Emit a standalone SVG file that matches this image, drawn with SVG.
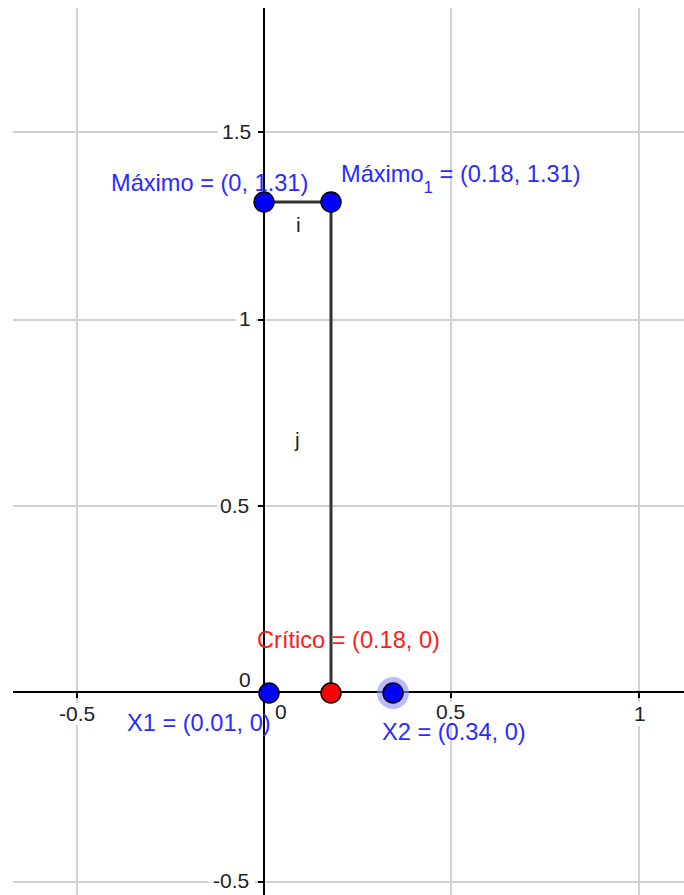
<svg xmlns="http://www.w3.org/2000/svg" width="684" height="895" viewBox="0 0 684 895">
<style>
.grid{stroke:#d0d0d0;stroke-width:2;fill:none}
.axis{stroke:#000;stroke-width:2;fill:none}
.seg{stroke:#333;stroke-width:3;fill:none}
.tick{font-family:"Liberation Sans",Arial,sans-serif;font-size:21px;fill:#222}
.bg{fill:#fff}
.lbl{font-family:"Liberation Sans",Arial,sans-serif;font-size:23.6px}
.blue{fill:#2a2aff}
.red{fill:#ff1a1a}
.pt{stroke:#000;stroke-width:1.5}
</style>
<rect width="684" height="895" fill="#fff"/>
<g id="grid">
<line class="grid" x1="77" y1="8" x2="77" y2="895"/>
<line class="grid" x1="451" y1="8" x2="451" y2="895"/>
<line class="grid" x1="639" y1="8" x2="639" y2="895"/>
<line class="grid" x1="13" y1="132" x2="684" y2="132"/>
<line class="grid" x1="13" y1="320" x2="684" y2="320"/>
<line class="grid" x1="13" y1="506" x2="684" y2="506"/>
<line class="grid" x1="13" y1="882" x2="684" y2="882"/>
</g>
<g id="tick-labels">
<rect class="bg" x="218" y="120" width="40" height="24"/>
<text class="tick" x="222" y="139">1.5</text>
<rect class="bg" x="236" y="307" width="20" height="24"/>
<text class="tick" x="239" y="326">1</text>
<rect class="bg" x="217" y="494" width="40" height="24"/>
<text class="tick" x="220" y="513">0.5</text>
<rect class="bg" x="209" y="870" width="46" height="24"/>
<text class="tick" x="213" y="888">-0.5</text>
<rect class="bg" x="236" y="672" width="18" height="18"/>
<text class="tick" x="239" y="687">0</text>
<rect class="bg" x="56" y="703" width="46" height="22"/>
<text class="tick" x="59" y="721">-0.5</text>
<text class="tick" x="275" y="719">0</text>
<rect class="bg" x="433" y="702" width="38" height="22"/>
<text class="tick" x="436" y="719">0.5</text>
<rect class="bg" x="632" y="702" width="18" height="24"/>
<text class="tick" x="634" y="721">1</text>
</g>
<g id="axes">
<line class="axis" x1="13" y1="692" x2="684" y2="692"/>
<line class="axis" x1="264" y1="8" x2="264" y2="895"/>
<line class="axis" x1="258" y1="132" x2="264" y2="132"/>
<line class="axis" x1="258" y1="320" x2="264" y2="320"/>
<line class="axis" x1="258" y1="506" x2="264" y2="506"/>
<line class="axis" x1="258" y1="882" x2="264" y2="882"/>
<line class="axis" x1="77" y1="692" x2="77" y2="698"/>
<line class="axis" x1="451" y1="692" x2="451" y2="698"/>
<line class="axis" x1="639" y1="692" x2="639" y2="698"/>
</g>
<g id="connectors">
<line id="i" class="seg" x1="264" y1="202" x2="331" y2="202"/>
<line id="j" class="seg" x1="331" y1="202" x2="331" y2="692"/>
<text class="tick" x="296" y="232" fill="#000">i</text>
<text class="tick" x="295" y="447" fill="#000">j</text>
</g>
<g id="maximo">
<circle class="pt" cx="264" cy="202" r="10" fill="#0000ff"/>
<text class="lbl blue" x="111" y="191">Máximo = (0, 1.31)</text>
</g>
<g id="maximo1">
<circle class="pt" cx="331" cy="202" r="10" fill="#0000ff"/>
<text class="lbl blue" x="341" y="182">Máximo<tspan font-size="17" dy="11">1</tspan><tspan dy="-11"> = (0.18, 1.31)</tspan></text>
</g>
<g id="x1">
<circle class="pt" cx="269" cy="693" r="10" fill="#0000ff"/>
<text class="lbl blue" x="127" y="731">X1 = (0.01, 0)</text>
</g>
<g id="critico">
<circle class="pt" cx="331" cy="693" r="10" fill="#ff0000"/>
<text class="lbl red" x="257" y="648">Crítico = (0.18, 0)</text>
</g>
<g id="x2">
<circle cx="393" cy="693" r="16" fill="#8c8cff" opacity="0.6"/>
<circle class="pt" cx="393" cy="693" r="10" fill="#0000ff"/>
<text class="lbl blue" x="382" y="740">X2 = (0.34, 0)</text>
</g>
</svg>
